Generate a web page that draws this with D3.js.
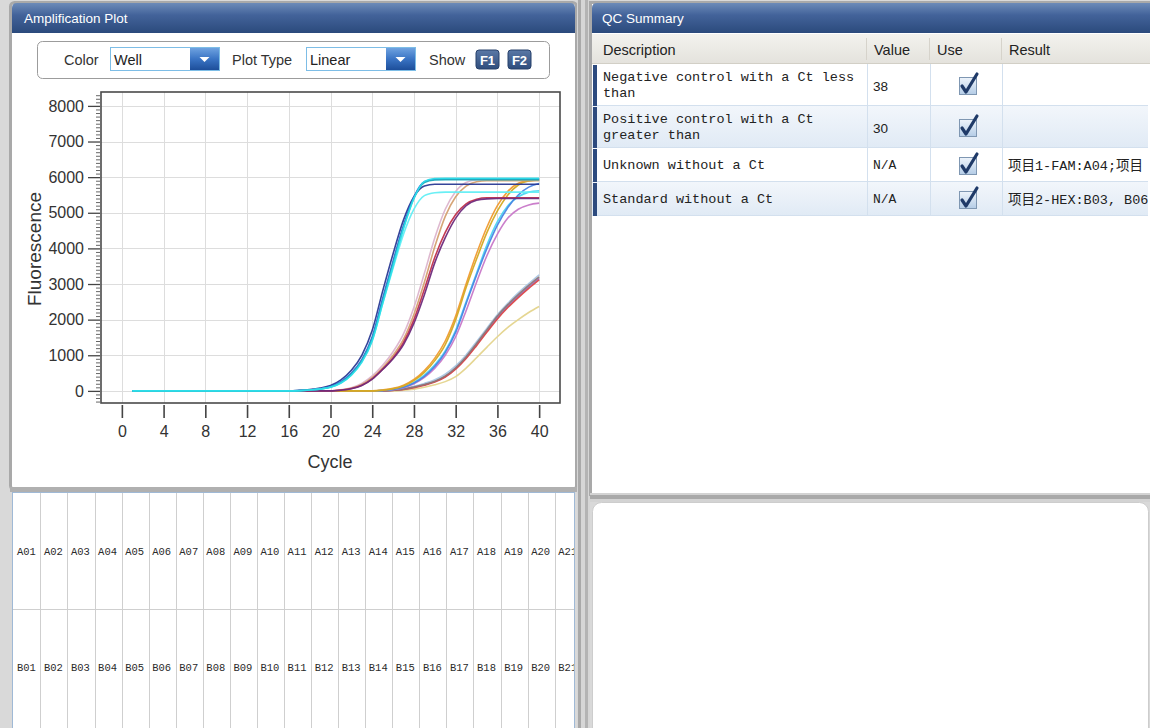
<!DOCTYPE html>
<html><head><meta charset="utf-8">
<script src="https://cdn.jsdelivr.net/npm/d3@7"></script>
<style>
html,body{margin:0;padding:0;background:#dadada;}
svg{display:block;}
</style>
</head><body>
<svg id="c" width="1150" height="728"></svg>
<script>
// ---------------- DATA ----------------
const cycles = [1,2,3,4,5,6,7,8,9,10,11,12,13,14,15,16,17,18,19,20,21,22,23,24,25,26,27,28,29,30,31,32,33,34,35,36,37,38,39,40];
const xTicks = [0,4,8,12,16,20,24,28,32,36,40];
const yTicks = [0,1000,2000,3000,4000,5000,6000,7000,8000];
const yMinorTicks = [-300,-200,-100,100,200,300,400,500,600,700,800,900,1100,1200,1300,1400,1500,1600,1700,1800,1900,2100,2200,2300,2400,2500,2600,2700,2800,2900,3100,3200,3300,3400,3500,3600,3700,3800,3900,4100,4200,4300,4400,4500,4600,4700,4800,4900,5100,5200,5300,5400,5500,5600,5700,5800,5900,6100,6200,6300,6400,6500,6600,6700,6800,6900,7100,7200,7300,7400,7500,7600,7700,7800,7900,8100,8200,8300];

// group 1 (earliest)
const navy1   = [0,0,0,0,0,0,0,0,0,0,0,0,0,0,0,0,15,40,80,150,310,580,1000,1700,2800,3850,4800,5450,5750,5800,5800,5800,5800,5800,5800,5800,5800,5800,5800,5800];
const blue1   = [0,0,0,0,0,0,0,0,0,0,0,0,0,0,0,0,10,30,60,120,260,500,880,1520,2600,3650,4650,5450,5870,5940,5950,5950,5950,5950,5950,5950,5950,5950,5950,5950];
const cyan1   = [0,0,0,0,0,0,0,0,0,0,0,0,0,0,0,0,5,25,50,100,220,440,800,1400,2450,3500,4550,5400,5880,5960,5970,5970,5970,5970,5970,5970,5970,5970,5970,5970];
const ltcyan1 = [0,0,0,0,0,0,0,0,0,0,0,0,0,0,0,0,5,25,50,100,220,450,820,1420,2450,3450,4400,5100,5480,5560,5580,5580,5580,5580,5580,5580,5580,5580,5580,5580];
const teal1   = [0,0,0,0,0,0,0,0,0,0,0,0,0,0,0,0,8,28,55,110,240,470,840,1460,2520,3580,4600,5420,5850,5920,5930,5930,5930,5930,5930,5930,5930,5930,5930,5930];
// group 2
const pink2    = [0,0,0,0,0,0,0,0,0,0,0,0,0,0,0,0,0,0,0,0,30,90,210,420,720,1100,1600,2350,3300,4300,5100,5600,5850,5920,5930,5930,5930,5930,5930,5930];
const tan2     = [0,0,0,0,0,0,0,0,0,0,0,0,0,0,0,0,0,0,0,0,25,75,180,370,650,1000,1450,2150,3050,4050,4900,5450,5750,5870,5900,5900,5900,5900,5900,5900];
const crimson2 = [0,0,0,0,0,0,0,0,0,0,0,0,0,0,0,0,0,0,0,0,22,65,160,340,610,930,1360,2000,2850,3750,4450,4950,5250,5380,5420,5420,5420,5420,5420,5420];
const purple2  = [0,0,0,0,0,0,0,0,0,0,0,0,0,0,0,0,0,0,0,0,20,60,150,330,600,900,1300,1900,2700,3600,4300,4850,5200,5350,5390,5400,5400,5400,5400,5400];
// group 3
const gold3    = [0,0,0,0,0,0,0,0,0,0,0,0,0,0,0,0,0,0,0,0,0,0,0,0,20,60,140,290,520,850,1300,2000,2900,3700,4450,5050,5500,5780,5890,5920];
const orange3  = [0,0,0,0,0,0,0,0,0,0,0,0,0,0,0,0,0,0,0,0,0,0,0,0,25,70,160,320,570,920,1400,2100,3000,3850,4600,5200,5600,5830,5900,5920];
const cyan3    = [0,0,0,0,0,0,0,0,0,0,0,0,0,0,0,0,0,0,0,0,0,0,0,0,15,45,110,240,440,730,1120,1700,2500,3300,4100,4750,5200,5450,5580,5620];
const blue3    = [0,0,0,0,0,0,0,0,0,0,0,0,0,0,0,0,0,0,0,0,0,0,0,0,10,40,100,220,410,690,1080,1650,2450,3250,4000,4650,5150,5500,5720,5820];
const magenta3 = [0,0,0,0,0,0,0,0,0,0,0,0,0,0,0,0,0,0,0,0,0,0,0,0,10,35,90,200,380,640,1000,1520,2250,3050,3800,4400,4850,5100,5220,5270];
// group 4 (latest)
const gray4    = [0,0,0,0,0,0,0,0,0,0,0,0,0,0,0,0,0,0,0,0,0,0,0,0,0,20,50,110,180,270,420,650,960,1330,1720,2100,2420,2700,2960,3200];
const red4     = [0,0,0,0,0,0,0,0,0,0,0,0,0,0,0,0,0,0,0,0,0,0,0,0,0,15,40,90,160,250,390,610,910,1270,1650,2020,2340,2620,2880,3120];
const ltblue4  = [0,0,0,0,0,0,0,0,0,0,0,0,0,0,0,0,0,0,0,0,0,0,0,0,0,25,60,130,210,310,470,700,1010,1380,1760,2140,2460,2750,3010,3260];
const violet4  = [0,0,0,0,0,0,0,0,0,0,0,0,0,0,0,0,0,0,0,0,0,0,0,0,0,18,45,100,170,260,400,630,930,1300,1680,2060,2380,2660,2920,3160];
const yellow4  = [0,0,0,0,0,0,0,0,0,0,0,0,0,0,0,0,0,0,0,0,0,0,0,0,0,0,20,50,100,170,260,400,640,930,1230,1520,1780,2000,2200,2370];

const seriesNames  = ["yellow4","ltblue4","violet4","red4","gray4","magenta3","cyan3","blue3","orange3","gold3","pink2","tan2","crimson2","purple2","navy1","blue1","ltcyan1","teal1","cyan1"];
const seriesValues = [yellow4,ltblue4,violet4,red4,gray4,magenta3,cyan3,blue3,orange3,gold3,pink2,tan2,crimson2,purple2,navy1,blue1,ltcyan1,teal1,cyan1];
const seriesColors = ["#e4d48c","#a8c6e4","#9474cc","#dc4646","#8c7676","#c878c8","#4cd6f2","#4a84e4","#f09a30","#d4aa22","#dcb4cc","#d4a070","#c0304c","#6e2a7c","#2a3a94","#3264dc","#62eef4","#1eaabc","#2edfea"];

const wellRows = ["A","B"];
const wellCols = ["01","02","03","04","05","06","07","08","09","10","11","12","13","14","15","16","17","18","19","20","21"];

const qcDescriptions = [["Negative control with a Ct less","than"],["Positive control with a Ct","greater than"],["Unknown without a Ct"],["Standard without a Ct"]];
const qcValues = ["38","30","N/A","N/A"];
const qcResults = ["","","项目1-FAM:A04;项目","项目2-HEX:B03, B06"];
const qcHeaders = ["Description","Value","Use","Result"];

// ---------------- DRAW ----------------
const svg = d3.select("#c");
const defs = svg.append("defs");
function vgrad(id, stops){
  const g = defs.append("linearGradient").attr("id",id).attr("x1",0).attr("y1",0).attr("x2",0).attr("y2",1);
  stops.forEach(s=>g.append("stop").attr("offset",s[0]).attr("stop-color",s[1]));
}
vgrad("hdr",[["0%","#6d8bb8"],["40%","#43639a"],["100%","#2b4a7c"]]);
vgrad("btn",[["0%","#6ea2e0"],["50%","#3a74c4"],["100%","#1d4e9a"]]);
vgrad("fbtn",[["0%","#5a78a6"],["100%","#2f4d7c"]]);
vgrad("chk",[["0%","#eef4fb"],["100%","#b4cce6"]]);
vgrad("rowb",[["0%","#f2f6fb"],["100%","#e0eaf5"]]);
vgrad("thdr",[["0%","#f3f2ee"],["100%","#e4e2dc"]]);

const FONT = "Arial, 'Liberation Sans', sans-serif";
const MONO = "'Liberation Mono', 'DejaVu Sans Mono', monospace";

// background
svg.append("rect").attr("width",1150).attr("height",728).attr("fill","#d9d9d9");

// ---------- LEFT TOP PANEL ----------
svg.append("rect").attr("x",10.5).attr("y",2.5).attr("width",566).attr("height",487).attr("rx",4)
  .attr("fill","#ffffff").attr("stroke","#a9a9a9").attr("stroke-width",3);
svg.append("path").attr("d","M12,33 L12,8 Q12,3 17,3 L570,3 Q575,3 575,8 L575,33 Z").attr("fill","url(#hdr)");
svg.append("text").attr("x",24).attr("y",23).attr("fill","#fff").attr("font-family",FONT).attr("font-size",13.5).text("Amplification Plot");

// controls box
svg.append("rect").attr("x",37.5).attr("y",41.5).attr("width",512).attr("height",37).attr("rx",5)
  .attr("fill","#fff").attr("stroke","#9c9c9c");
const ctl = svg.append("g").attr("font-family",FONT).attr("font-size",14.5).attr("fill","#333");
ctl.append("text").attr("x",64).attr("y",65).text("Color");
ctl.append("text").attr("x",232).attr("y",65).text("Plot Type");
ctl.append("text").attr("x",429).attr("y",65).text("Show");
function combo(x,w,label){
  svg.append("rect").attr("x",x+0.5).attr("y",47.5).attr("width",w).attr("height",23).attr("fill","#fff").attr("stroke","#7dbde6");
  svg.append("text").attr("x",x+4).attr("y",65).attr("font-family",FONT).attr("font-size",14.5).attr("fill","#222").text(label);
  svg.append("rect").attr("x",x+w-29).attr("y",48).attr("width",29).attr("height",22).attr("fill","url(#btn)");
  const cx = x+w-14.5;
  svg.append("path").attr("d",`M${cx-5},57 L${cx+5},57 L${cx},62 Z`).attr("fill","#fff");
}
combo(110,109,"Well");
combo(306,109,"Linear");
[["F1",476],["F2",508]].forEach(([t,x])=>{
  svg.append("rect").attr("x",x).attr("y",50).attr("width",23).attr("height",19).attr("rx",3).attr("fill","url(#fbtn)").attr("stroke","#27416a");
  svg.append("text").attr("x",x+11.5).attr("y",64.5).attr("text-anchor","middle").attr("fill","#fff")
    .attr("font-family",FONT).attr("font-weight","bold").attr("font-size",13).text(t);
});

// ---------- PLOT ----------
const x = d3.scaleLinear().domain([-2,42]).range([101,560]);
const y = d3.scaleLinear().domain([-340,8390]).range([403,92]);

defs.append("clipPath").attr("id","plotclip").append("rect").attr("x",101).attr("y",92).attr("width",459).attr("height",311);

const grid = svg.append("g").attr("stroke","#dddddd").attr("stroke-width",1);
grid.selectAll("line.v").data(xTicks).join("line").attr("class","v")
  .attr("x1",d=>Math.round(x(d))+0.5).attr("x2",d=>Math.round(x(d))+0.5).attr("y1",92).attr("y2",403);
grid.selectAll("line.h").data(yTicks).join("line").attr("class","h")
  .attr("y1",d=>Math.round(y(d))+0.5).attr("y2",d=>Math.round(y(d))+0.5).attr("x1",101).attr("x2",560);

const line = d3.line().x((d,i)=>x(cycles[i])).y(d=>y(d)).curve(d3.curveMonotoneX);
svg.append("g").attr("clip-path","url(#plotclip)")
  .selectAll("path").data(seriesValues).join("path")
  .attr("d",d=>line(d)).attr("fill","none")
  .attr("stroke",(d,i)=>seriesColors[i]).attr("stroke-width",1.6).attr("stroke-opacity",0.95);

svg.append("rect").attr("x",101).attr("y",92).attr("width",459).attr("height",311)
  .attr("fill","none").attr("stroke","#4a4a4a").attr("stroke-width",1.6);

// y axis
const yAxis = svg.append("g").attr("transform","translate(100,0)")
  .call(d3.axisLeft(y).tickValues(yTicks).tickSize(12).tickPadding(4).tickFormat(d3.format("d")));
yAxis.select(".domain").remove();
yAxis.selectAll("line").attr("stroke","#444").attr("stroke-width",1.3);
yAxis.selectAll("text").attr("font-family",FONT).attr("font-size",16).attr("fill","#333");
const yMinor = svg.append("g").attr("transform","translate(100,0)")
  .call(d3.axisLeft(y).tickValues(yMinorTicks).tickSize(4).tickFormat(""));
yMinor.select(".domain").remove();
yMinor.selectAll("line").attr("stroke","#666").attr("stroke-width",1);

// x axis
const xAxis = svg.append("g").attr("transform","translate(0,405)")
  .call(d3.axisBottom(x).tickValues(xTicks).tickSize(13).tickPadding(8));
xAxis.select(".domain").remove();
xAxis.selectAll("line").attr("stroke","#444").attr("stroke-width",1.6);
xAxis.selectAll("text").attr("font-family",FONT).attr("font-size",16).attr("fill","#333");

svg.append("text").attr("x",330).attr("y",468).attr("text-anchor","middle")
  .attr("font-family",FONT).attr("font-size",18).attr("fill","#333").text("Cycle");
svg.append("text").attr("transform","translate(41,249) rotate(-90)").attr("text-anchor","middle")
  .attr("font-family",FONT).attr("font-size",19).attr("fill","#333").text("Fluorescence");

// ---------- LEFT BOTTOM PANEL (wells) ----------
svg.append("rect").attr("x",10).attr("y",487).attr("width",567).attr("height",5).attr("fill","#b0b0b0");
svg.append("rect").attr("x",12.5).attr("y",492.5).attr("width",562).attr("height",240)
  .attr("fill","#fff").attr("stroke","#9fb9d6");
defs.append("clipPath").attr("id","wellclip").append("rect").attr("x",13).attr("y",493).attr("width",561).attr("height",235);
const colX = d3.scaleBand().domain(wellCols).range([13.3, 13.3+27.07*wellCols.length]);
const rowY = d3.scaleBand().domain(wellRows).range([493, 725]);
const wells = svg.append("g").attr("clip-path","url(#wellclip)");
wells.selectAll("line.c").data(wellCols.slice(1)).join("line").attr("class","c")
  .attr("x1",d=>Math.round(colX(d))+0.5).attr("x2",d=>Math.round(colX(d))+0.5).attr("y1",493).attr("y2",728)
  .attr("stroke","#cfcfcf");
wells.selectAll("line.r").data(wellRows.slice(1)).join("line").attr("class","r")
  .attr("x1",13).attr("x2",574).attr("y1",d=>Math.round(rowY(d))+0.5).attr("y2",d=>Math.round(rowY(d))+0.5)
  .attr("stroke","#cfcfcf");
wellRows.forEach(r=>{
  wells.selectAll(null).data(wellCols).join("text")
    .attr("x",d=>colX(d)+colX.bandwidth()/2-0.5).attr("y",rowY(r)+rowY.bandwidth()/2+4)
    .attr("text-anchor","middle").attr("font-family",MONO).attr("font-size",10.5).attr("fill","#2a2a2a")
    .text(d=>r+d);
});

// ---------- SPLITTER ----------
svg.append("rect").attr("x",577).attr("y",0).attr("width",13).attr("height",728).attr("fill","#d6d6d6");
svg.append("rect").attr("x",578).attr("y",0).attr("width",3).attr("height",728).attr("fill","#a9a9a9");
svg.append("rect").attr("x",585).attr("y",0).attr("width",3).attr("height",728).attr("fill","#b4b4b4");

// ---------- RIGHT TOP PANEL (QC) ----------
svg.append("rect").attr("x",590.5).attr("y",2.5).attr("width",565).attr("height",492)
  .attr("fill","#ffffff").attr("stroke","#a9a9a9").attr("stroke-width",3);
svg.append("path").attr("d","M592,33 L592,8 Q592,3 597,3 L1150,3 L1150,33 Z").attr("fill","url(#hdr)");
svg.append("text").attr("x",602).attr("y",23).attr("fill","#fff").attr("font-family",FONT).attr("font-size",13.5).text("QC Summary");

const colStarts = [592,868,931,1003,1150];
svg.append("rect").attr("x",592).attr("y",34).attr("width",558).attr("height",30).attr("fill","url(#thdr)");
svg.append("line").attr("x1",592).attr("x2",1150).attr("y1",63.5).attr("y2",63.5).attr("stroke","#d2cfc6");
const th = svg.append("g");
qcHeaders.forEach((h,i)=>{
  th.append("text").attr("x",colStarts[i]+ (i===0?11:6)).attr("y",55).attr("font-family",FONT).attr("font-size",14.5).attr("fill","#222").text(h);
  if(i>0) th.append("line").attr("x1",colStarts[i]-1.5).attr("x2",colStarts[i]-1.5).attr("y1",38).attr("y2",60).attr("stroke","#d6d3cb");
});

const rowTops = [64,106,148,182];
const rowBots = [106,148,182,216];
defs.append("clipPath").attr("id","qcclip").append("rect").attr("x",592).attr("y",34).attr("width",556).attr("height",200);
const tb = svg.append("g").attr("clip-path","url(#qcclip)");
qcDescriptions.forEach((lines,i)=>{
  const t = rowTops[i], b = rowBots[i], cy = (t+b)/2;
  tb.append("rect").attr("x",592).attr("y",t).attr("width",558).attr("height",b-t)
    .attr("fill", i%2===1 ? "url(#rowb)" : "#ffffff");
  tb.append("line").attr("x1",592).attr("x2",1150).attr("y1",b-0.5).attr("y2",b-0.5).attr("stroke","#d3e0ee");
  tb.append("rect").attr("x",593).attr("y",t+1).attr("width",4).attr("height",b-t-1).attr("fill","#2d4a7e");
  [868,931,1003].forEach(cx=>tb.append("line").attr("x1",cx-0.5).attr("x2",cx-0.5).attr("y1",t).attr("y2",b).attr("stroke","#d3e0ee"));
  lines.forEach((ln,j)=>{
    tb.append("text").attr("x",603).attr("y", lines.length===2 ? cy-4+j*16 : cy+4)
      .attr("font-family",MONO).attr("font-size",13.5).attr("fill","#222").attr("xml:space","preserve").text(ln);
  });
  const isNum = /^[0-9]+$/.test(qcValues[i]);
  tb.append("text").attr("x",873).attr("y", isNum ? cy+6 : cy+4)
    .attr("font-family", isNum?FONT:MONO).attr("font-size", isNum?13.5:13).attr("fill","#222").text(qcValues[i]);
  // checkbox
  const bx = 959, by = cy-8;
  tb.append("rect").attr("x",bx+0.5).attr("y",by+0.5).attr("width",17).attr("height",17).attr("fill","url(#chk)").attr("stroke","#7f97b2");
  tb.append("path").attr("d",`M${bx+3},${by+9} L${bx+7},${by+15} L${bx+18},${by-3}`)
    .attr("fill","none").attr("stroke","#1f3a68").attr("stroke-width",3.2).attr("stroke-linecap","round").attr("stroke-linejoin","round");
  if(qcResults[i]) tb.append("text").attr("x",1008).attr("y",cy+5)
    .attr("font-family","'Liberation Mono','Noto Sans CJK SC',monospace").attr("font-size",13.5).attr("fill","#222").text(qcResults[i]);
});

// ---------- RIGHT BOTTOM PANEL ----------
svg.append("rect").attr("x",590).attr("y",493).attr("width",560).attr("height",9).attr("fill","#d3d3d3");
svg.append("rect").attr("x",590).attr("y",495).attr("width",560).attr("height",4).attr("fill","#a9a9a9");
svg.append("rect").attr("x",592.5).attr("y",502.5).attr("width",556).attr("height",240).attr("rx",9)
  .attr("fill","#ffffff").attr("stroke","#cdcdcd");
</script>
</body></html>
